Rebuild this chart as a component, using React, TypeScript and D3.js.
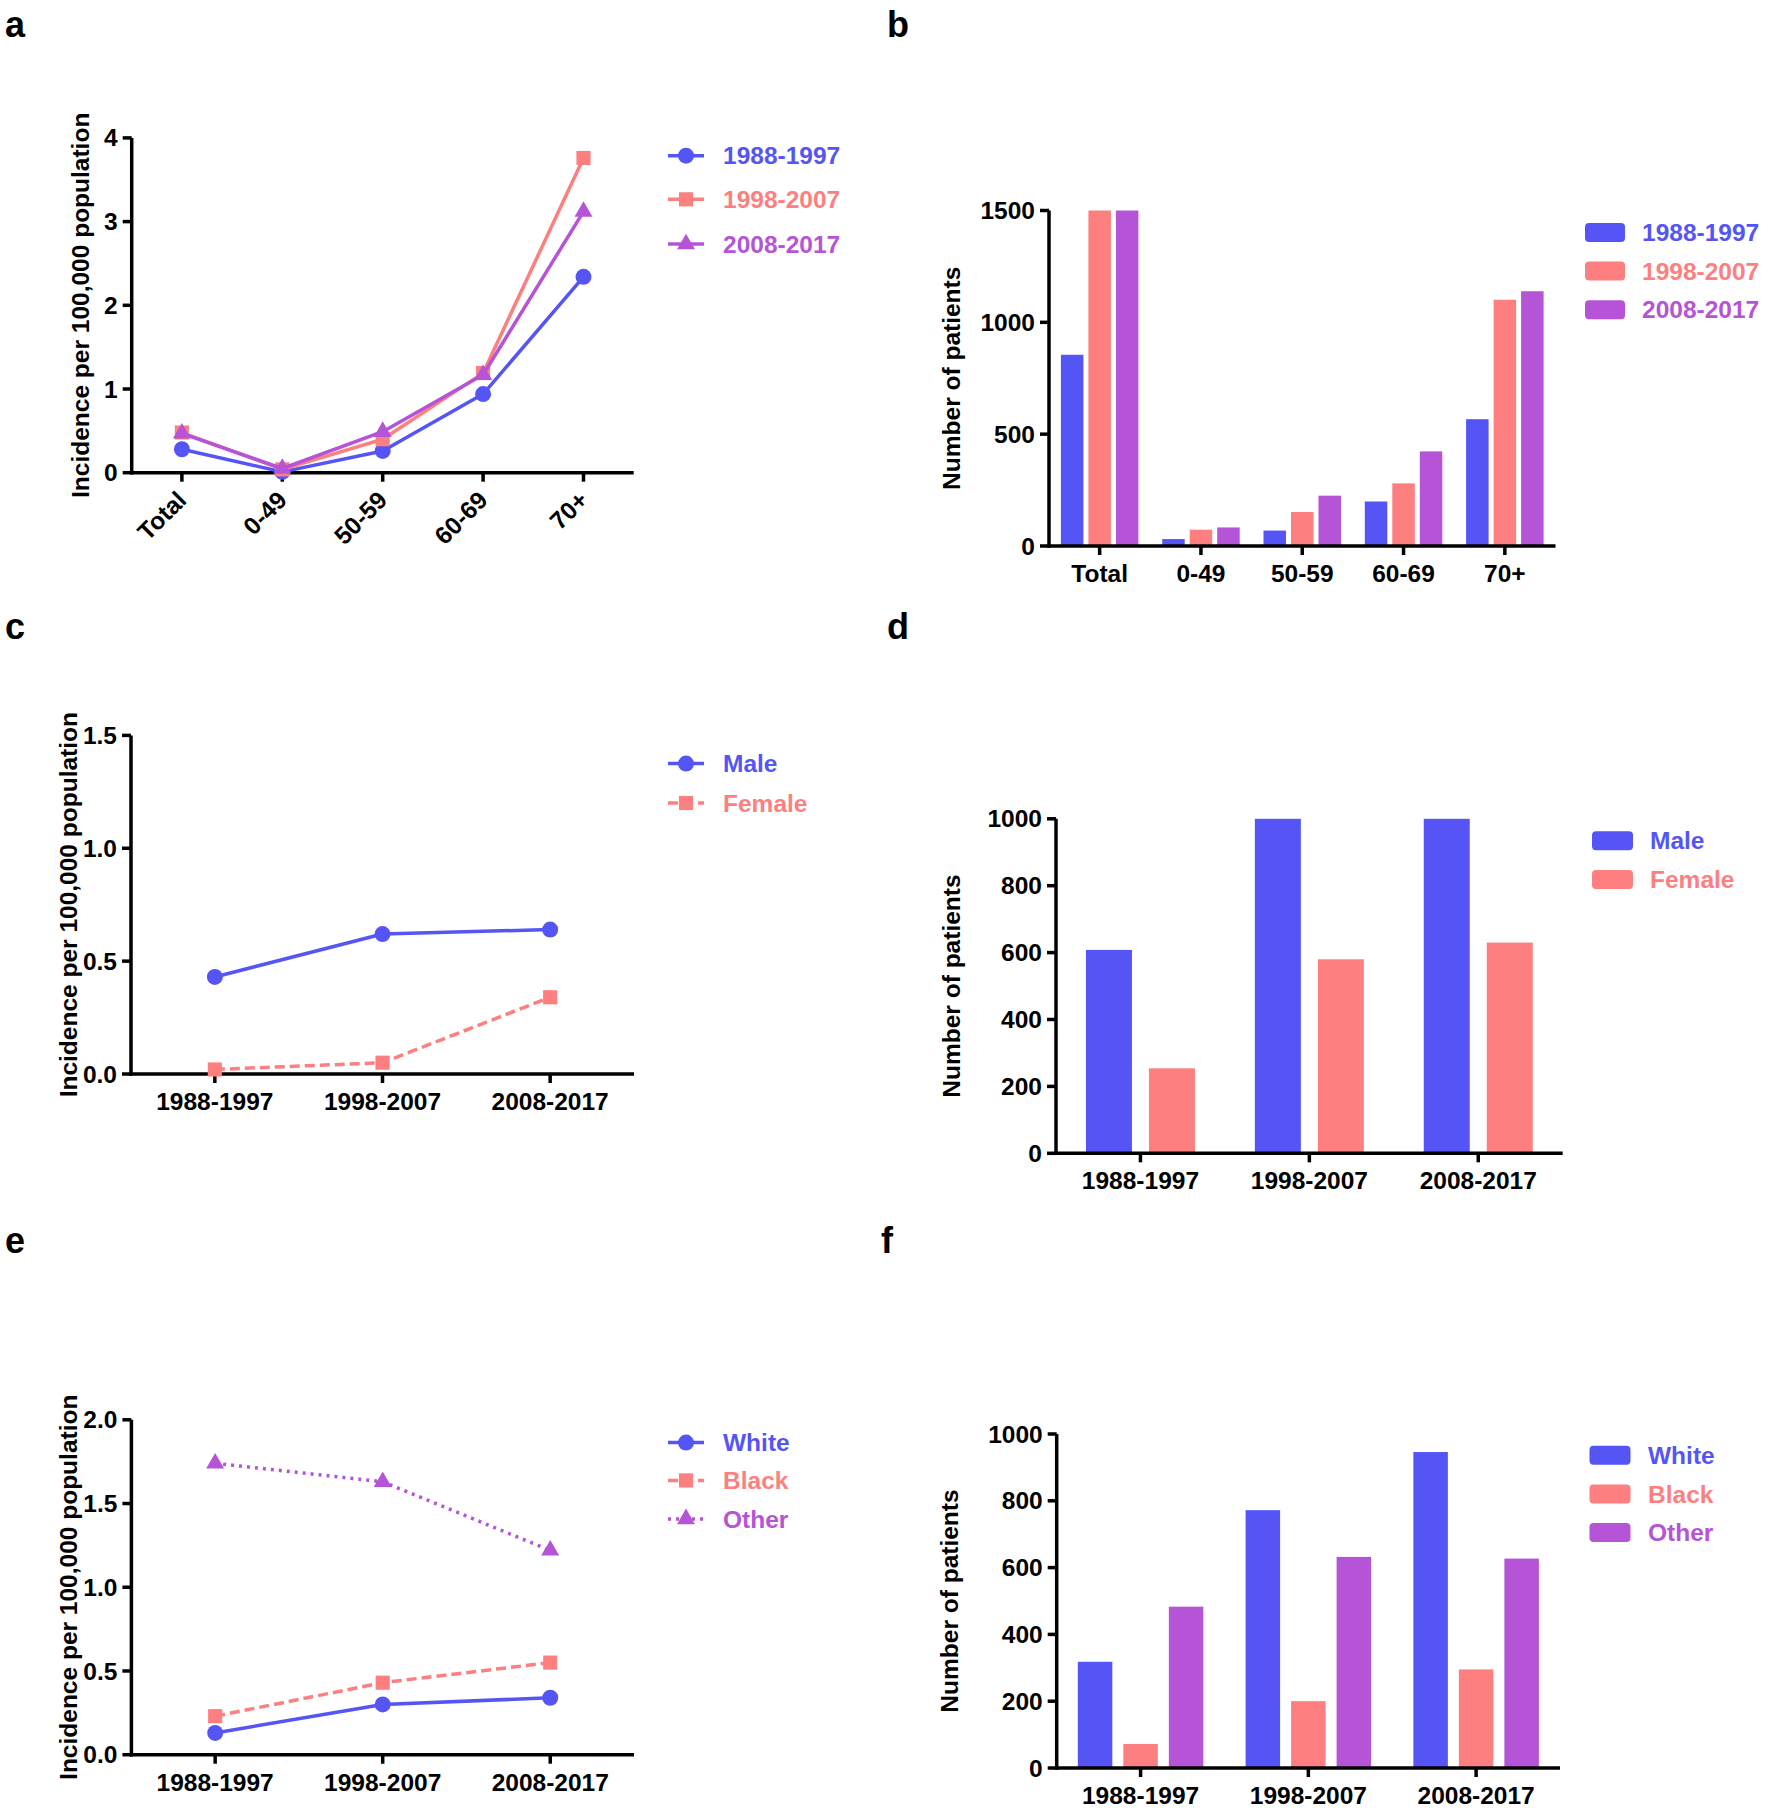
import React from "react";
import * as d3 from "d3";

// ---------- DATA ----------
const ageGroups = ["Total", "0-49", "50-59", "60-69", "70+"];
const periods = ["1988-1997", "1998-2007", "2008-2017"];

// Panel a: incidence by age group per period
const incAge1988 = [0.28, 0.01, 0.26, 0.94, 2.34];
const incAge1998 = [0.48, 0.04, 0.4, 1.19, 3.76];
const incAge2008 = [0.47, 0.05, 0.49, 1.17, 3.12];

// Panel b: number of patients by age group per period (axis capped at 1500)
const nAge1988 = [855, 31, 69, 199, 567];
const nAge1998 = [1500, 73, 152, 280, 1101];
const nAge2008 = [1500, 83, 225, 423, 1139];

// Panel c: incidence by sex
const sexNames = ["Male", "Female"];
const incMale = [0.43, 0.62, 0.64];
const incFemale = [0.02, 0.05, 0.34];

// Panel d: number of patients by sex (axis capped at 1000)
const nMale = [608, 1000, 1000];
const nFemale = [254, 580, 630];

// Panel e: incidence by race
const raceNames = ["White", "Black", "Other"];
const incWhite = [0.13, 0.3, 0.34];
const incBlack = [0.23, 0.43, 0.55];
const incOther = [1.74, 1.63, 1.22];

// Panel f: number of patients by race
const nWhite = [318, 772, 946];
const nBlack = [72, 200, 295];
const nOther = [483, 632, 627];

const ticksA = [0, 1, 2, 3, 4];
const ticksB = [0, 500, 1000, 1500];
const ticksC = [0, 0.5, 1.0, 1.5];
const ticksD = [0, 200, 400, 600, 800, 1000];
const ticksE = [0, 0.5, 1.0, 1.5, 2.0];
const ticksF = [0, 200, 400, 600, 800, 1000];

// ---------- STYLE ----------
const BLUE = "#5555F6";
const SALMON = "#FD7F7F";
const PURPLE = "#B554D6";
const FONT = "'Liberation Sans', Arial, Helvetica, sans-serif";
const FS = 24.5;
const AXW = 3.5;
const TICK = 9;
const LW = 3.5;

type Sym = "circle" | "square" | "triangle";
type LineSeries = { name: string; values: number[]; color: string; sym: Sym; dash?: string };
type BarSeries = { name: string; values: number[]; color: string };

function symPath(s: Sym) {
  const t = s === "circle" ? d3.symbolCircle : s === "square" ? d3.symbolSquare : d3.symbolTriangle;
  const size = s === "circle" ? 200 : s === "square" ? 200 : 140;
  return d3.symbol().type(t).size(size)() as string;
}

function YAxis({ y, left, ticks, fmt, titleX, title }: any) {
  const [r0, r1] = y.range();
  const cy = (r0 + r1) / 2;
  return (
    <g>
      <line x1={left} x2={left} y1={r1} y2={r0 + AXW / 2} stroke="#000" strokeWidth={AXW} />
      {ticks.map((t: number) => (
        <g key={t}>
          <line x1={left - TICK} x2={left} y1={y(t)} y2={y(t)} stroke="#000" strokeWidth={AXW} />
          <text x={left - 14} y={y(t)} dy="0.35em" textAnchor="end" fontSize={FS} fontWeight="bold" fontFamily={FONT}>
            {fmt(t)}
          </text>
        </g>
      ))}
      <text
        transform={`translate(${titleX},${cy}) rotate(-90)`}
        textAnchor="middle"
        fontSize={FS}
        fontWeight="bold"
        fontFamily={FONT}
      >
        {title}
      </text>
    </g>
  );
}

function XAxis({ xs, cats, left, right, bottom, rotate }: any) {
  return (
    <g>
      <line x1={left - AXW / 2} x2={right} y1={bottom} y2={bottom} stroke="#000" strokeWidth={AXW} />
      {cats.map((c: string) => {
        const x = xs(c);
        return (
          <g key={c}>
            <line x1={x} x2={x} y1={bottom} y2={bottom + TICK} stroke="#000" strokeWidth={AXW} />
            {rotate ? (
              <text
                transform={`translate(${x + 6},${bottom + 29}) rotate(-45)`}
                textAnchor="end"
                fontSize={FS}
                fontWeight="bold"
                fontFamily={FONT}
              >
                {c}
              </text>
            ) : (
              <text x={x} y={bottom + 36} textAnchor="middle" fontSize={FS} fontWeight="bold" fontFamily={FONT}>
                {c}
              </text>
            )}
          </g>
        );
      })}
    </g>
  );
}

function LinePanel(props: {
  cats: string[];
  series: LineSeries[];
  left: number;
  right: number;
  top: number;
  bottom: number;
  yMax: number;
  ticks: number[];
  fmt: (v: number) => string;
  titleX: number;
  rotate?: boolean;
  legendRows: number[];
}) {
  const { cats, series, left, right, top, bottom, yMax, ticks, fmt, titleX, rotate, legendRows } = props;
  const x = d3.scalePoint<string>().domain(cats).range([left, right]).padding(0.5);
  const y = d3.scaleLinear().domain([0, yMax]).range([bottom, top]);
  const line = d3
    .line<number>()
    .x((_, i) => x(cats[i]) as number)
    .y((v) => y(v));
  const lx0 = 668,
    lx1 = 704,
    lmid = 686,
    tx = 723;
  return (
    <g>
      <XAxis xs={x} cats={cats} left={left} right={right} bottom={bottom} rotate={rotate} />
      <YAxis y={y} left={left} ticks={ticks} fmt={fmt} titleX={titleX} title="Incidence per 100,000 population" />
      {series.map((s) => (
        <g key={s.name}>
          <path
            d={line(s.values) as string}
            fill="none"
            stroke={s.color}
            strokeWidth={LW}
            strokeDasharray={s.dash}
            strokeLinejoin="round"
          />
          {s.values.map((v, i) => (
            <path key={i} d={symPath(s.sym)} transform={`translate(${x(cats[i])},${y(v)})`} fill={s.color} />
          ))}
        </g>
      ))}
      {series.map((s, i) => (
        <g key={"lg" + s.name}>
          <line x1={lx0} x2={lx1} y1={legendRows[i]} y2={legendRows[i]} stroke={s.color} strokeWidth={LW} strokeDasharray={s.dash} />
          <path d={symPath(s.sym)} transform={`translate(${lmid},${legendRows[i]})`} fill={s.color} />
          <text x={tx} y={legendRows[i]} dy="0.35em" fill={s.color} fontSize={FS} fontWeight="bold" fontFamily={FONT}>
            {s.name}
          </text>
        </g>
      ))}
    </g>
  );
}

function BarPanel(props: {
  cats: string[];
  series: BarSeries[];
  left: number;
  right: number;
  top: number;
  bottom: number;
  yMax: number;
  ticks: number[];
  barW: number;
  gap: number;
  titleX: number;
  legendX: number;
  legendW: number;
  legendTextX: number;
  legendRows: number[];
}) {
  const { cats, series, left, right, top, bottom, yMax, ticks, barW, gap, titleX, legendX, legendW, legendTextX, legendRows } =
    props;
  const x = d3.scaleBand<string>().domain(cats).range([left, right]).padding(0);
  const xc = (c: string) => (x(c) as number) + x.bandwidth() / 2;
  const n = series.length;
  const groupW = n * barW + (n - 1) * gap;
  const inner = d3
    .scaleBand<string>()
    .domain(series.map((s) => s.name))
    .range([-groupW / 2, groupW / 2])
    .paddingInner(gap / (barW + gap))
    .paddingOuter(0);
  const y = d3.scaleLinear().domain([0, yMax]).range([bottom, top]).clamp(true);
  return (
    <g>
      {series.map((s) => (
        <g key={s.name}>
          {s.values.map((v, i) => {
            const bx = xc(cats[i]) + (inner(s.name) as number);
            return <rect key={i} x={bx} y={y(v)} width={inner.bandwidth()} height={bottom - y(v)} fill={s.color} />;
          })}
        </g>
      ))}
      <XAxis xs={xc} cats={cats} left={left} right={right} bottom={bottom} rotate={false} />
      <YAxis y={y} left={left} ticks={ticks} fmt={d3.format("d")} titleX={titleX} title="Number of patients" />
      {series.map((s, i) => (
        <g key={"lg" + s.name}>
          <rect x={legendX} y={legendRows[i] - 9.5} width={legendW} height={19} rx={4} fill={s.color} />
          <text x={legendTextX} y={legendRows[i]} dy="0.35em" fill={s.color} fontSize={FS} fontWeight="bold" fontFamily={FONT}>
            {s.name}
          </text>
        </g>
      ))}
    </g>
  );
}

function PanelLabel({ x, y, t }: { x: number; y: number; t: string }) {
  return (
    <text x={x} y={y} fontSize={36} fontWeight="bold" fontFamily={FONT}>
      {t}
    </text>
  );
}

export default function App() {
  const ageLine: LineSeries[] = [
    { name: periods[0], values: incAge1988, color: BLUE, sym: "circle" },
    { name: periods[1], values: incAge1998, color: SALMON, sym: "square" },
    { name: periods[2], values: incAge2008, color: PURPLE, sym: "triangle" },
  ];
  const ageBar: BarSeries[] = [
    { name: periods[0], values: nAge1988, color: BLUE },
    { name: periods[1], values: nAge1998, color: SALMON },
    { name: periods[2], values: nAge2008, color: PURPLE },
  ];
  const sexLine: LineSeries[] = [
    { name: sexNames[0], values: incMale, color: BLUE, sym: "circle" },
    { name: sexNames[1], values: incFemale, color: SALMON, sym: "square", dash: "10,5" },
  ];
  const sexBar: BarSeries[] = [
    { name: sexNames[0], values: nMale, color: BLUE },
    { name: sexNames[1], values: nFemale, color: SALMON },
  ];
  const raceLine: LineSeries[] = [
    { name: raceNames[0], values: incWhite, color: BLUE, sym: "circle" },
    { name: raceNames[1], values: incBlack, color: SALMON, sym: "square", dash: "10,5" },
    { name: raceNames[2], values: incOther, color: PURPLE, sym: "triangle", dash: "3,5" },
  ];
  const raceBar: BarSeries[] = [
    { name: raceNames[0], values: nWhite, color: BLUE },
    { name: raceNames[1], values: nBlack, color: SALMON },
    { name: raceNames[2], values: nOther, color: PURPLE },
  ];

  return (
    <svg
      width={1772}
      height={1818}
      viewBox="0 0 1772 1818"
      style={{ position: "absolute", left: 0, top: 0, background: "#fff" }}
    >
      <rect x={0} y={0} width={1772} height={1818} fill="#fff" />
      <PanelLabel x={5} y={37} t="a" />
      <PanelLabel x={887} y={37} t="b" />
      <PanelLabel x={5} y={639} t="c" />
      <PanelLabel x={887} y={639} t="d" />
      <PanelLabel x={5} y={1253} t="e" />
      <PanelLabel x={881} y={1253} t="f" />

      <LinePanel
        cats={ageGroups}
        series={ageLine}
        left={131.7}
        right={633.7}
        top={137.9}
        bottom={472.7}
        yMax={4}
        ticks={ticksA}
        fmt={d3.format("d")}
        titleX={88.5}
        rotate
        legendRows={[155.7, 199.3, 244.1]}
      />
      <BarPanel
        cats={ageGroups}
        series={ageBar}
        left={1049}
        right={1555.5}
        top={210.5}
        bottom={546}
        yMax={1500}
        ticks={ticksB}
        barW={22.5}
        gap={5}
        titleX={960}
        legendX={1585}
        legendW={40}
        legendTextX={1642}
        legendRows={[232.5, 271.1, 309.8]}
      />
      <LinePanel
        cats={periods}
        series={sexLine}
        left={131}
        right={634}
        top={735.4}
        bottom={1074}
        yMax={1.5}
        ticks={ticksC}
        fmt={d3.format(".1f")}
        titleX={77}
        legendRows={[763.6, 803]}
      />
      <BarPanel
        cats={periods}
        series={sexBar}
        left={1056}
        right={1562.7}
        top={818.8}
        bottom={1153.3}
        yMax={1000}
        ticks={ticksD}
        barW={46}
        gap={17}
        titleX={960}
        legendX={1592}
        legendW={41}
        legendTextX={1650}
        legendRows={[840.8, 879.5]}
      />
      <LinePanel
        cats={periods}
        series={raceLine}
        left={131.4}
        right={634}
        top={1419.8}
        bottom={1754.7}
        yMax={2}
        ticks={ticksE}
        fmt={d3.format(".1f")}
        titleX={77}
        legendRows={[1442.6, 1480.4, 1519]}
      />
      <BarPanel
        cats={periods}
        series={raceBar}
        left={1056.7}
        right={1560}
        top={1434}
        bottom={1768}
        yMax={1000}
        ticks={ticksF}
        barW={34.5}
        gap={11}
        titleX={958}
        legendX={1589.5}
        legendW={41}
        legendTextX={1648}
        legendRows={[1455.3, 1494, 1532.6]}
      />
    </svg>
  );
}
